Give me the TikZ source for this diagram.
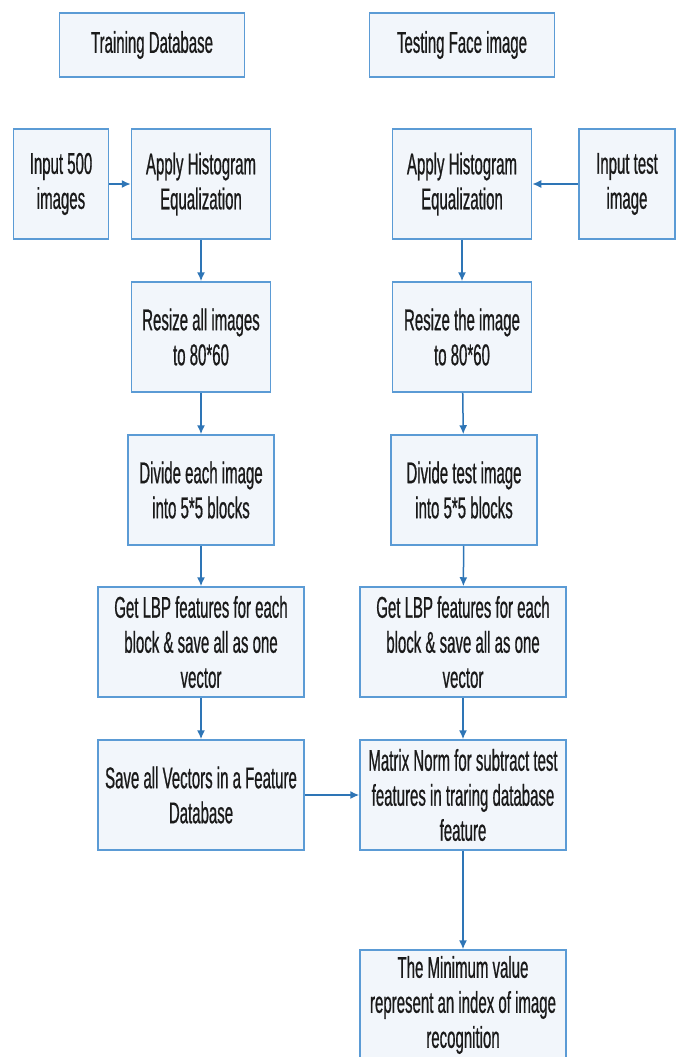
\documentclass[tikz,border=0pt]{standalone}
\usepackage{fontspec}
\setmainfont{Liberation Sans}[FakeStretch=0.5,FakeBold=0.6]
\usepackage{xcolor}
\usetikzlibrary{arrows,arrows.meta,positioning}
\definecolor{boxfill}{HTML}{F2F6FB}
\definecolor{boxline}{HTML}{5B9BD5}
\definecolor{arrowline}{HTML}{2E75B6}
\definecolor{textdark}{HTML}{1A1A1A}
\tikzset{%
	block/.style    = {draw=boxline, fill=boxfill, rectangle, line width=1.5pt, minimum height=110pt, align=center, inner sep=0pt, text=textdark, font=\fontsize{30}{35}\selectfont},
	header/.style   = {block, minimum height=64pt, minimum width=185pt},
	arrow/.style    = {line width=1.5pt, draw=arrowline, -{Latex[length=9pt,width=8pt]}},
}
\begin{document}
\begin{tikzpicture}[x=1pt,y=-1pt]
	\useasboundingbox (0,0) rectangle (678,1057);
	\node[header] (traindb) at (152,45) {Training Database};
	\node[header] (testdb) at (462,45) {Testing Face image};
	\node[block,minimum width=95pt] (input1) at (61,184) {Input 500\\images};
	\node[block,minimum width=139pt] (histo1) at (201,184) {Apply Histogram\\Equalization};
	\node[block,minimum width=139pt] (histo2) at (462,184) {Apply Histogram\\Equalization};
	\node[block,minimum width=96pt] (input2) at (627,184) {Input test\\image};
	\node[block,minimum width=139pt] (resize1) at (201,337) {Resize all images\\to 80*60};
	\node[block,minimum width=139pt] (resize2) at (462,337) {Resize the image\\to 80*60};
	\node[block,minimum width=146pt] (divide1) at (201,490) {Divide each image\\into 5*5 blocks};
	\node[block,minimum width=146pt] (divide2) at (464,490) {Divide test image\\into 5*5 blocks};
	\node[block,minimum width=206pt] (lbp1) at (201,642) {Get LBP features for each\\block \& save all as one\\vector};
	\node[block,minimum width=206pt] (lbp2) at (463,642) {Get LBP features for each\\block \& save all as one\\vector};
	\node[block,minimum width=206pt] (save) at (201,795) {Save all Vectors in a Feature\\Database};
	\node[block,minimum width=206pt] (norm) at (463,795) {Matrix Norm for subtract test\\features in traring database\\feature};
	\node[block,minimum width=206pt] (minval) at (463,1005) {The Minimum value\\represent an index of image\\recognition};
	\draw[arrow] (input1) -- (histo1);
	\draw[arrow] (input2) -- (histo2);
	\draw[arrow] (histo1) -- (resize1);
	\draw[arrow] (resize1) -- (divide1);
	\draw[arrow] (divide1) -- (lbp1);
	\draw[arrow] (lbp1) -- (save);
	\draw[arrow] (histo2) -- (resize2);
	\draw[arrow] (resize2) -- (divide2);
	\draw[arrow] (divide2) -- (lbp2);
	\draw[arrow] (lbp2) -- (norm);
	\draw[arrow] (save) -- (norm);
	\draw[arrow] (norm) -- (minval);
\end{tikzpicture}
\end{document}
